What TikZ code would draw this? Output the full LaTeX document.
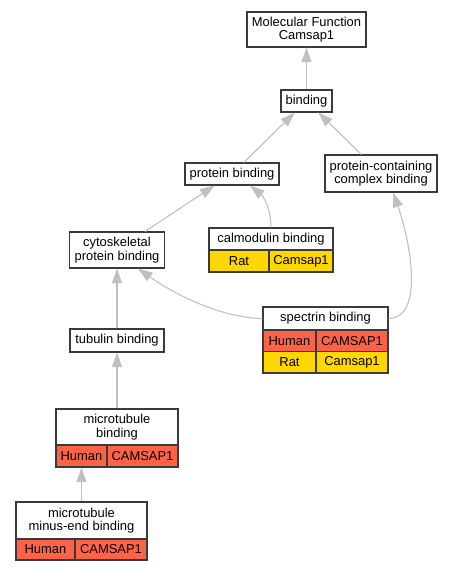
\documentclass[tikz,border=0pt]{standalone}
\usepackage{fontspec}
\setmainfont{Liberation Sans}
\usetikzlibrary{arrows.meta,calc}
\definecolor{hcol}{HTML}{FF6347}
\definecolor{rcol}{HTML}{FFD700}
\definecolor{ecol}{HTML}{C0C0C0}
\definecolor{bcol}{HTML}{3A3A3A}
\begin{document}
\begin{tikzpicture}[x=0.75pt,y=-0.75pt,
  box/.style={draw=bcol,line width=0.8pt,fill=white,inner sep=0pt,align=center,
    font=\fontsize{9.7}{10.2}\selectfont},
  hum/.style={box,fill=hcol},
  rat/.style={box,fill=rcol},
  edge/.style={draw=ecol,line width=0.8pt,-{Triangle[length=11pt,width=7.5pt]}}]
\useasboundingbox[fill=white] (0,0) rectangle (453,571);
% nodes
\node[box,minimum width=89.25pt,minimum height=26.25pt] (mf) at (306.5,29.5) {Molecular Function\\Camsap1};
\node[box,minimum width=38.25pt,minimum height=16.5pt] (bind) at (306.5,101) {binding};
\node[box,minimum width=70.5pt,minimum height=16.5pt] (pb) at (232,174) {protein binding};
\node[box,minimum width=84pt,minimum height=27.75pt] (pcc) at (381,173.5) {protein-containing\\complex binding};
\node[box,minimum width=71.25pt,minimum height=27pt] (cyto) at (117,250) {cytoskeletal\\protein binding};
% calmodulin
\node[box,minimum width=93pt,minimum height=16.5pt] (calmh) at (271,239) {calmodulin binding};
\node[rat,minimum width=45pt,minimum height=16.5pt] (calmr) at (239,261) {Rat};
\node[rat,minimum width=48pt,minimum height=16.5pt] (calmg) at (301,261) {Camsap1};
% spectrin
\node[box,minimum width=93.75pt,minimum height=17.25pt] (spech) at (325.5,318.5) {spectrin binding};
\node[hum,minimum width=39.75pt,minimum height=16.125pt] (spechu) at (289.5,340.75) {Human};
\node[hum,minimum width=54pt,minimum height=16.125pt] (spechg) at (352,340.75) {CAMSAP1};
\node[rat,minimum width=39.75pt,minimum height=16.125pt] (specr) at (289.5,362.25) {Rat};
\node[rat,minimum width=54pt,minimum height=16.125pt] (specrg) at (352,362.25) {Camsap1};
% tubulin
\node[box,minimum width=70.5pt,minimum height=17.25pt] (tub) at (117,340.5) {tubulin binding};
% microtubule binding
\node[box,minimum width=91.5pt,minimum height=27pt] (mtbh) at (117,427) {microtubule\\binding};
\node[hum,minimum width=38.25pt,minimum height=16.5pt] (mtbhu) at (81.5,456) {Human};
\node[hum,minimum width=53.25pt,minimum height=16.5pt] (mtbg) at (142.5,456) {CAMSAP1};
% minus-end
\node[box,minimum width=98.25pt,minimum height=27.75pt] (meh) at (81.5,520.5) {microtubule\\minus-end binding};
\node[hum,minimum width=44.25pt,minimum height=15.75pt] (mehu) at (45.5,549.5) {Human};
\node[hum,minimum width=54pt,minimum height=15.75pt] (meg) at (111,549.5) {CAMSAP1};
% edges
\draw[edge] (bind) -- (mf);
\draw[edge] (pb) -- (bind);
\draw[edge] (pcc) -- (bind);
\draw[edge] (cyto) -- (pb);
\draw[edge] (calmh.north) .. controls (271,208) and (263,196) .. ($(pb.south)+(18,0)$);
\draw[edge] (spech.east) .. controls (425,318) and (410,240) .. ($(pcc.south)+(12,0)$);
\draw[edge] (spech.west) .. controls (225,318) and (180,298) .. ($(cyto.south)+(21,0)$);
\draw[edge] (tub) -- (cyto);
\draw[edge] (mtbh) -- (tub);
\draw[edge] (meh) -- (mtbhu);
\end{tikzpicture}
\end{document}
